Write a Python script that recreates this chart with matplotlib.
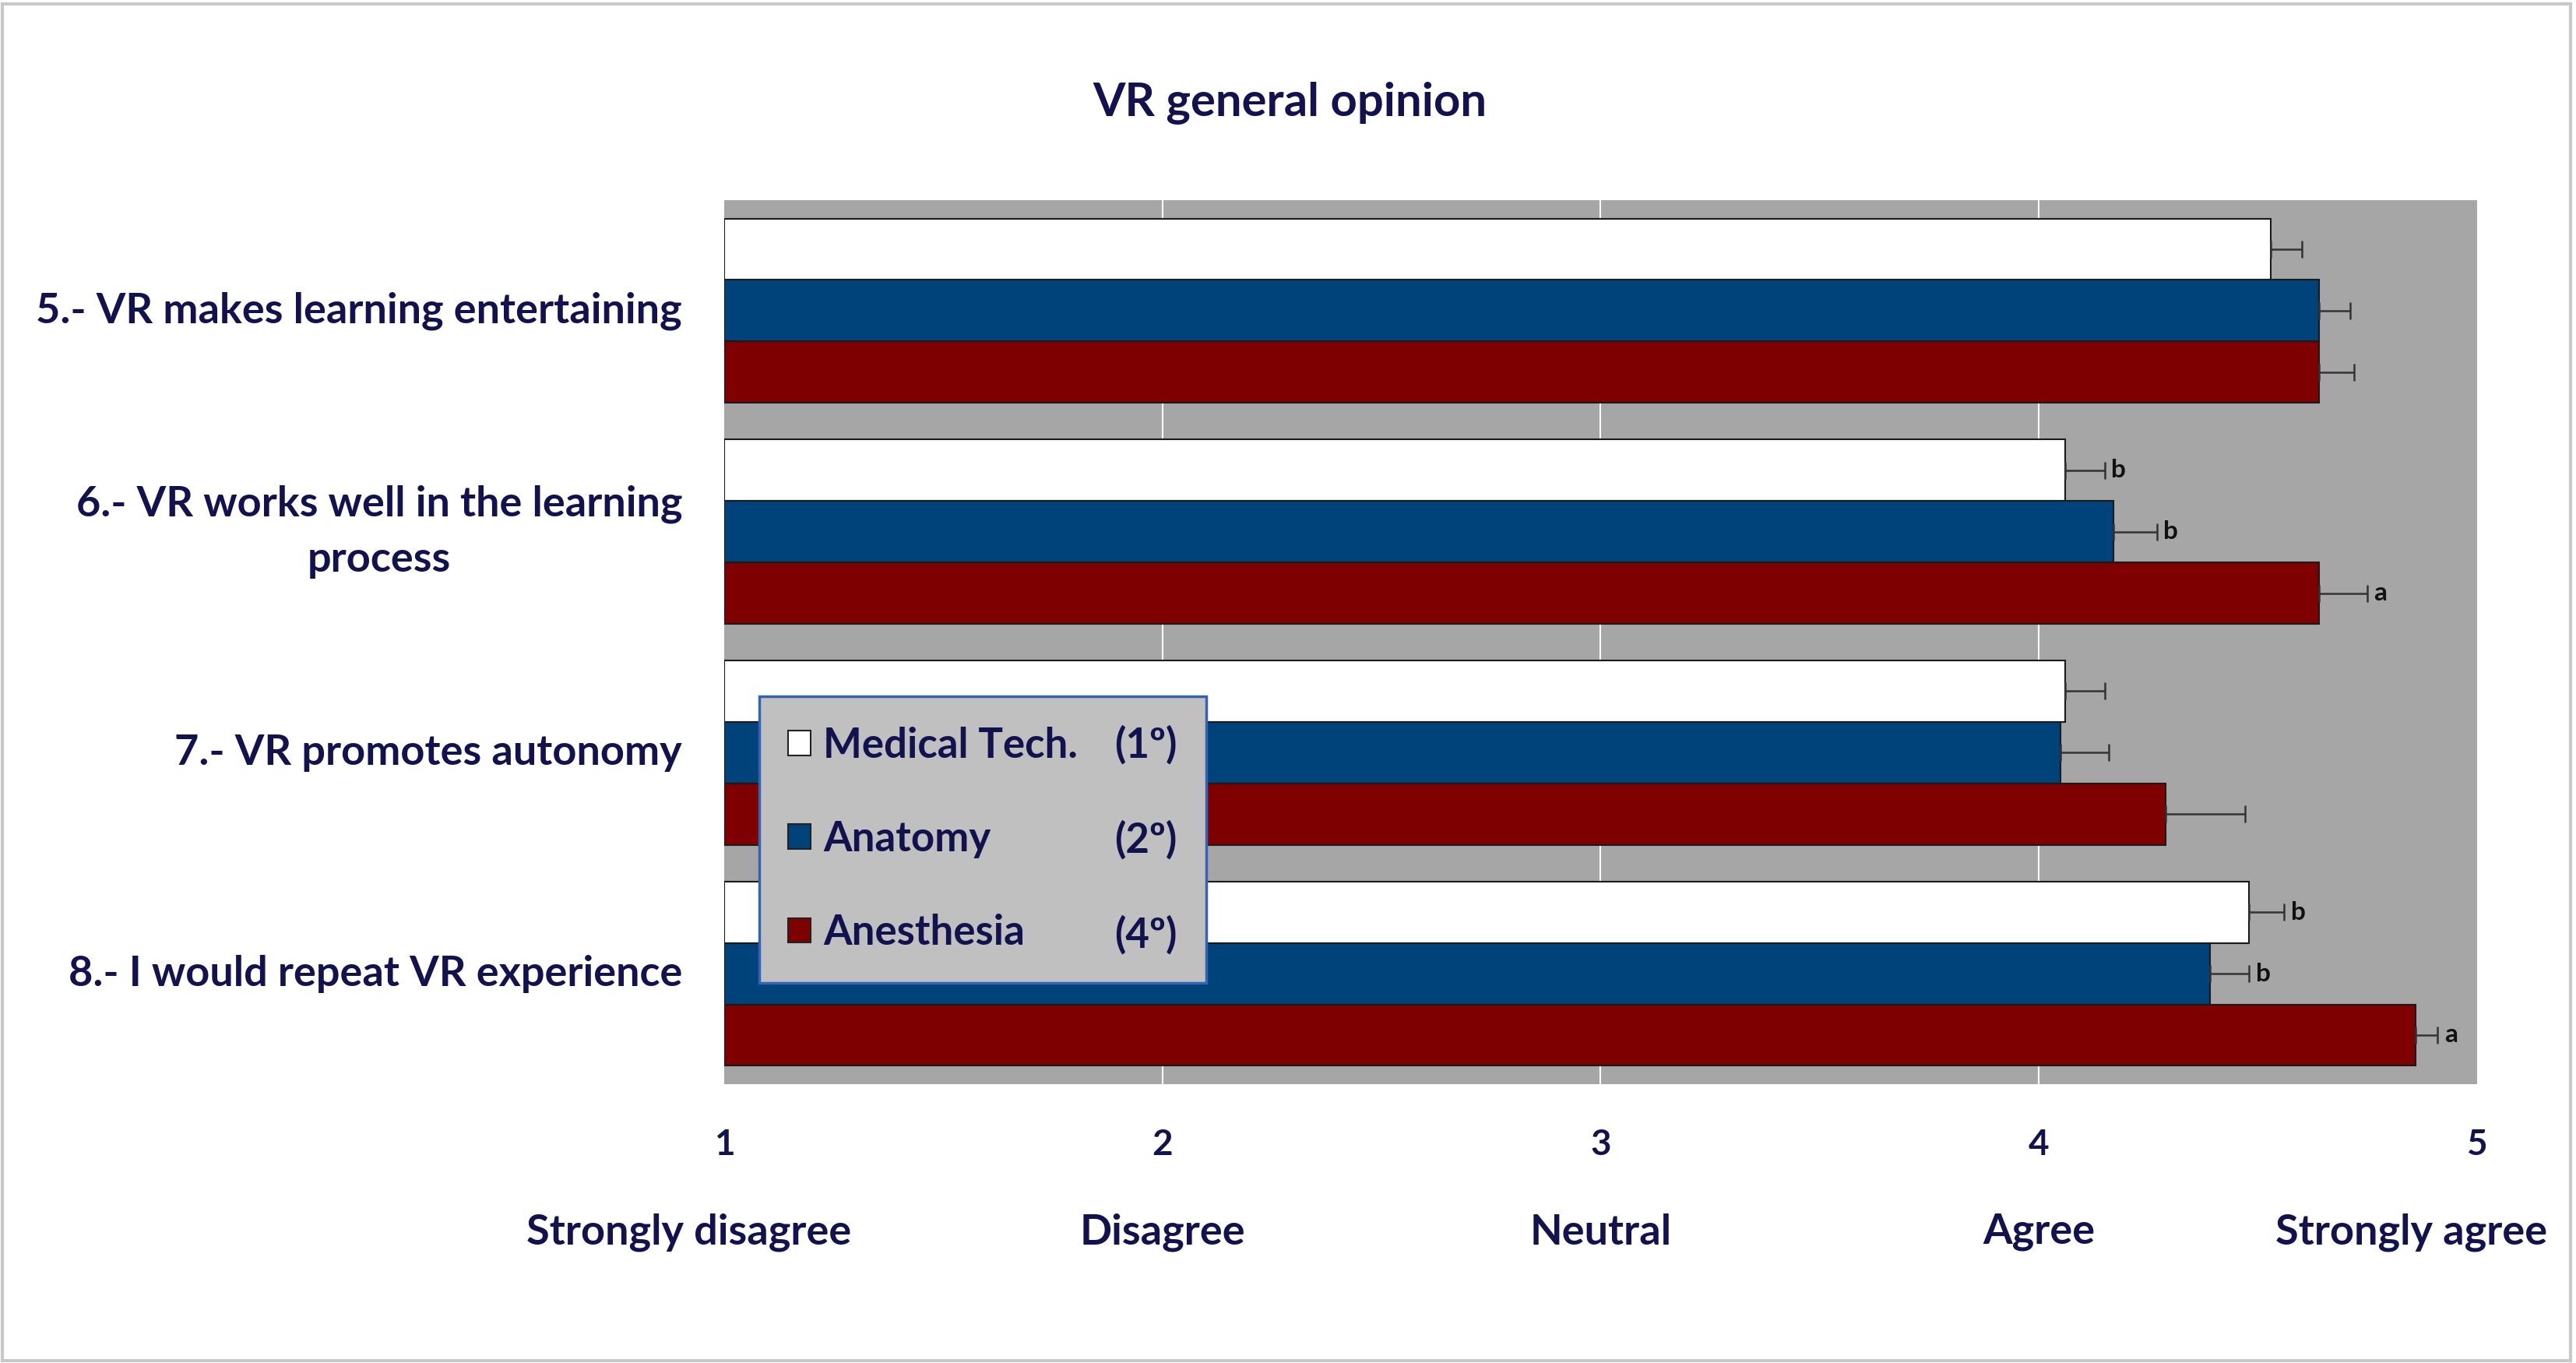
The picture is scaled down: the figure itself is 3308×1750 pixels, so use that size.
import matplotlib.pyplot as plt
import matplotlib.patches as mpatches
import matplotlib.transforms as mtransforms
import numpy as np

plt.rcParams['font.family'] = ['Lato', 'DejaVu Sans']
plt.rcParams['font.weight'] = 'bold'

NAVY = '#12124f'

# data
questions = ['5.- VR makes learning entertaining',
             '6.- VR works well in the learning\nprocess',
             '7.- VR promotes autonomy',
             '8.- I would repeat VR experience']
groups = ['Medical Tech.', 'Anatomy', 'Anesthesia']
group_years = ['(1º)', '(2º)', '(4º)']
medtech = [4.53, 4.06, 4.06, 4.48]
anatomy = [4.64, 4.17, 4.05, 4.39]
anesthesia = [4.64, 4.64, 4.29, 4.86]
medtech_err = [0.07, 0.09, 0.09, 0.08]
anatomy_err = [0.07, 0.10, 0.11, 0.09]
anesthesia_err = [0.08, 0.11, 0.18, 0.05]
medtech_sig = ['', 'b', '', 'b']
anatomy_sig = ['', 'b', '', 'b']
anesthesia_sig = ['', 'a', '', 'a']
scale_ticks = [1, 2, 3, 4, 5]
scale_labels = ['Strongly disagree', 'Disagree', 'Neutral', 'Agree', 'Strongly agree']

colors = ['#ffffff', '#00427a', '#7f0000']

fig = plt.figure(figsize=(33.08, 17.5), dpi=100)
ax = fig.add_axes([0.2811, 0.2046, 0.6805, 0.6485])
ax.set_facecolor('#a6a6a6')

y = np.arange(len(questions))
h = 0.278
series = [(medtech, medtech_err, medtech_sig),
          (anatomy, anatomy_err, anatomy_sig),
          (anesthesia, anesthesia_err, anesthesia_sig)]
for i, (vals, errs, sig) in enumerate(series):
    pos = y + (i - 1) * h
    widths = np.array(vals) - 1
    ax.barh(pos, widths, left=1, height=h, color=colors[i],
            edgecolor='#1a1a1a', linewidth=1.5, zorder=3)
    ax.errorbar(vals, pos, xerr=[np.zeros(len(errs)), errs], fmt='none',
                ecolor='#333333', elinewidth=1.8, capsize=8, capthick=1.8, zorder=4)
    for v, e, p, s in zip(vals, errs, pos, sig):
        if s:
            ax.annotate(s, (v + e, p), xytext=(6, 0), textcoords='offset points',
                        ha='left', va='center', fontsize=24, color='#111111',
                        fontweight='bold')

ax.set_xlim(1, 5)
ax.set_ylim(len(questions) - 0.5, -0.5)
ax.set_xticks([2, 3, 4])
ax.grid(axis='x', color='white', linewidth=1.5, zorder=0)
ax.set_axisbelow(True)
ax.set_xticklabels([])
ax.set_yticks([])
ax.tick_params(length=0)
for sp in ax.spines.values():
    sp.set_visible(False)

# axis numbers and scale words
trans = mtransforms.blended_transform_factory(ax.transData, fig.transFigure)
word_shift = [-0.08, 0, 0, 0, -0.15]
for t, lab, sh in zip(scale_ticks, scale_labels, word_shift):
    ax.text(t, 1 - 1470 / 1750, str(t), transform=trans, ha='center', va='center',
            fontsize=33, color=NAVY, fontweight='bold')
    ax.text(t + sh, 1 - 1582 / 1750, lab, transform=trans, ha='center', va='center',
            fontsize=39, color=NAVY, fontweight='bold')

# question labels
ytrans = mtransforms.blended_transform_factory(fig.transFigure, ax.transData)
for yi, q in zip(y, questions):
    ax.text(876 / 3308, yi, q, transform=ytrans, ha='right', va='center',
            multialignment='center', fontsize=39, color=NAVY, fontweight='bold',
            linespacing=1.55)

fig.text(0.5006, 1 - 133 / 1750, 'VR general opinion', ha='center', va='center',
         fontsize=43, color=NAVY, fontweight='bold')

# legend with aligned year column
handles = [mpatches.Patch(facecolor=c, edgecolor='#222222', linewidth=1.5) for c in colors]
blank = [mpatches.Patch(alpha=0) for _ in colors]
leg = ax.legend(handles + blank, groups + group_years, ncol=2,
                loc='upper left', bbox_to_anchor=(975 / 3308, 1 - 894 / 1750),
                bbox_transform=fig.transFigure, fontsize=38, handlelength=0.55,
                handleheight=0.55, handletextpad=0.3, columnspacing=0.05,
                labelspacing=1.35, borderpad=0.7, borderaxespad=0, frameon=True,
                fancybox=False, framealpha=1)
leg.get_frame().set_facecolor('#c0c0c0')
leg.get_frame().set_edgecolor('#3563b4')
leg.get_frame().set_linewidth(2.5)
for t in leg.get_texts():
    t.set_color(NAVY)
leg.set_zorder(10)

# outer border
fig.patches.append(mpatches.Rectangle((0.001, 0.002), 0.997, 0.995, transform=fig.transFigure,
                                      fill=False, edgecolor='#c8c8c8', linewidth=3))

fig.savefig('out.png', dpi=100)
